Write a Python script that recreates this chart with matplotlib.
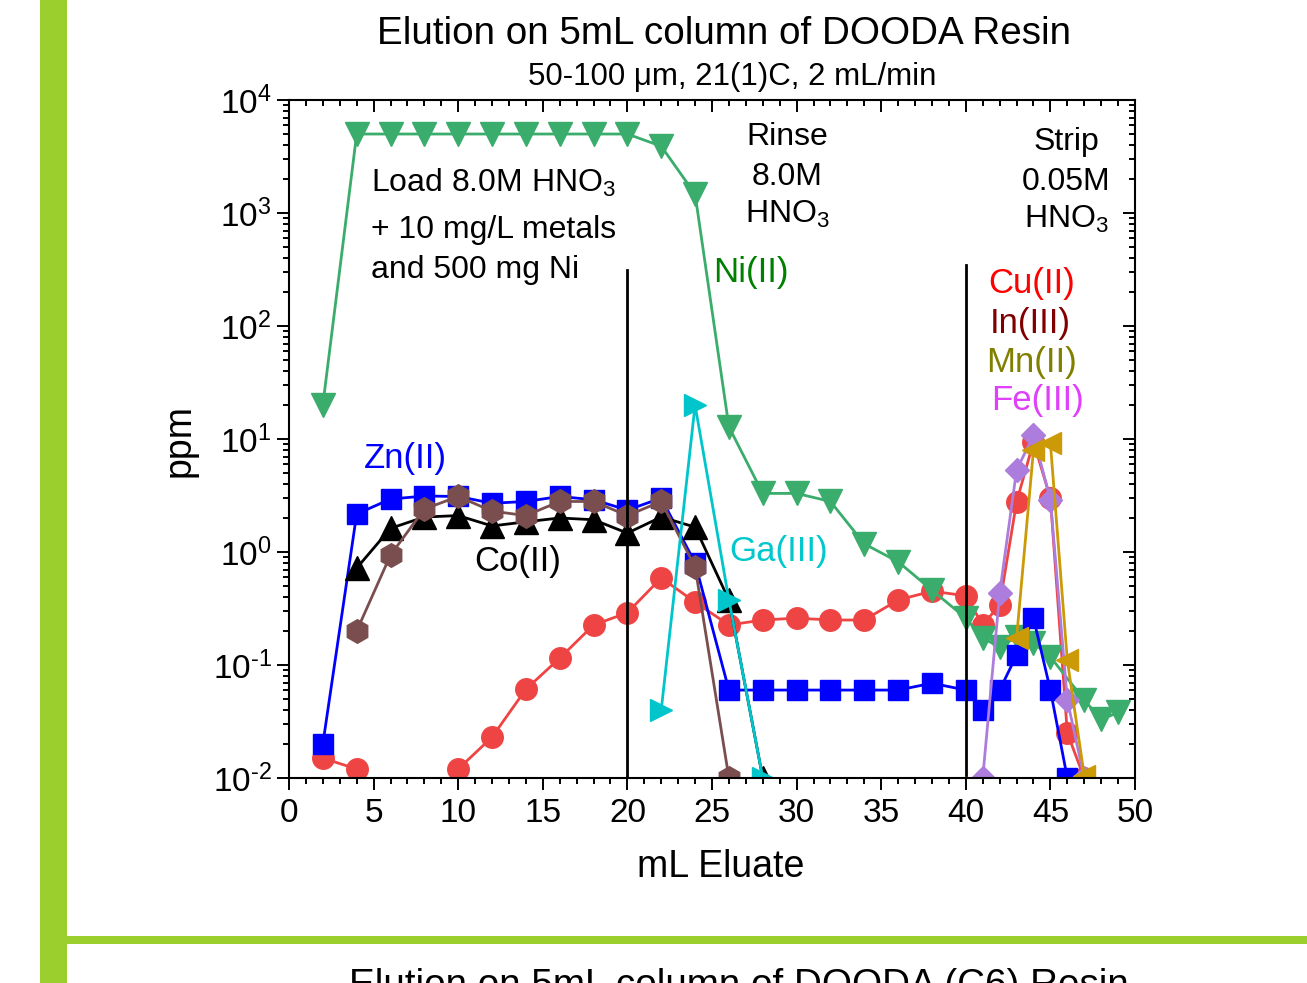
import numpy as np
import matplotlib
matplotlib.use("Agg")
import matplotlib.pyplot as plt
from matplotlib.patches import Rectangle
from matplotlib.ticker import FixedLocator, LogLocator, NullFormatter, MultipleLocator

plt.rcParams['font.family'] = ['Liberation Sans', 'DejaVu Sans']
plt.rcParams['mathtext.default'] = 'regular'
plt.rcParams['mathtext.fontset'] = 'custom'
plt.rcParams['mathtext.rm'] = 'Liberation Sans'
plt.rcParams['axes.unicode_minus'] = False

# ---- data (mL eluate vs ppm) ----
vol_ni = [2, 4, 6, 8, 10, 12, 14, 16, 18, 20, 22, 24, 26, 28, 30, 32, 34, 36, 38,
          40, 41, 42, 43, 44, 45, 47, 48, 49]
ni = [20, 5000, 5000, 5000, 5000, 5000, 5000, 5000, 5000, 5000, 3900, 1470, 12.8,
      3.3, 3.3, 2.8, 1.18, 0.82, 0.46, 0.26, 0.173, 0.144, 0.177, 0.157, 0.118,
      0.049, 0.033, 0.038]

vol_zn = [2, 4, 6, 8, 10, 12, 14, 16, 18, 20, 22, 24, 26, 28, 30, 32, 34, 36, 38,
          40, 41, 42, 43, 44, 45, 46]
zn = [0.02, 2.17, 2.94, 3.13, 3.1, 2.7, 2.8, 3.1, 2.9, 2.35, 3.0, 0.8, 0.06, 0.06,
      0.06, 0.06, 0.06, 0.06, 0.069, 0.06, 0.04, 0.06, 0.122, 0.26, 0.06, 0.01]

vol_co = [4, 6, 8, 10, 12, 14, 16, 18, 20, 22, 24, 26, 28]
co = [0.72, 1.62, 2.04, 2.1, 1.7, 1.85, 2.0, 1.93, 1.47, 2.04, 1.66, 0.376, 0.01]

vol_cu = [2, 4, 6, 8, 10, 12, 14, 16, 18, 20, 22, 24, 26, 28, 30, 32, 34, 36, 38,
          40, 41, 42, 43, 44, 45, 46, 47]
cu = [0.015, 0.012, np.nan, np.nan, 0.012, 0.023, 0.061, 0.115, 0.226, 0.29, 0.59,
      0.36, 0.226, 0.25, 0.26, 0.25, 0.25, 0.376, 0.45, 0.41, 0.226, 0.34, 2.77,
      9.4, 3.0, 0.025, 0.01]

vol_in = [4, 6, 8, 10, 12, 14, 16, 18, 20, 22, 24, 26]
in_ = [0.2, 0.94, 2.4, 3.1, 2.3, 2.1, 2.8, 2.8, 2.1, 2.8, 0.74, 0.01]

vol_ga = [22, 24, 26, 28]
ga = [0.04, 20, 0.376, 0.01]

vol_fe = [41, 42, 43, 44, 45, 46, 47]
fe = [0.01, 0.43, 5.3, 10.8, 2.9, 0.049, 0.01]

vol_mn = [43, 44, 45, 46, 47]
mn = [0.173, 8.0, 9.2, 0.11, 0.0105]

x_ticks = [0, 5, 10, 15, 20, 25, 30, 35, 40, 45, 50]
y_exponents = [-2, -1, 0, 1, 2, 3, 4]

# ---- figure ----
W, H = 1307, 983
fig = plt.figure(figsize=(W / 100, H / 100), dpi=100)

green = '#9bcf2e'
fig.patches.append(Rectangle((40 / W, 0), 27 / W, 1, transform=fig.transFigure,
                             facecolor=green, edgecolor='none', zorder=0))
fig.patches.append(Rectangle((67 / W, (H - 944) / H), 1 - 67 / W, 8 / H,
                             transform=fig.transFigure, facecolor=green,
                             edgecolor='none', zorder=0))

ax = fig.add_axes([289 / W, (H - 778) / H, (1135 - 289) / W, (778 - 100) / H])
ax.set_yscale('log')
ax.set_xlim(0, 50)
ax.set_ylim(1e-2, 1e4)

lw = 2.0
series = [
    (vol_cu, cu, 'o', '#ef4444', 15.5),
    (vol_ni, ni, 'v', '#3aac6c', 17),
    (vol_zn, zn, 's', '#0000ff', 14),
    (vol_co, co, '^', '#000000', 17),
    (vol_in, in_, 'h', '#7a4e4e', 17),
    (vol_ga, ga, '>', '#00c6cc', 16),
    (vol_fe, fe, 'D', '#ad7ddd', 12.5),
    (vol_mn, mn, '<', '#cc9a06', 16.5),
]
for xs, ys, mk, col, ms in series:
    ax.plot(xs, ys, marker=mk, color=col, lw=lw, ms=ms, mec=col, mew=1)

# section dividers
ax.axvline(20, ymin=0.0, ymax=0.749, color='black', lw=2)
ax.axvline(40, ymin=0.005, ymax=0.757, color='black', lw=2)


def decade_label(e):
    # plain hyphen for negative exponents
    sign = '\u2010' if e < 0 else ''
    return '10$^{%s%d}$' % (sign, abs(e))


# ticks
ax.xaxis.set_major_locator(FixedLocator(x_ticks))
ax.xaxis.set_minor_locator(MultipleLocator(1))
ax.set_xticklabels([str(v) for v in x_ticks])
ax.yaxis.set_major_locator(FixedLocator([10.0 ** e for e in y_exponents]))
ax.set_yticklabels([decade_label(e) for e in y_exponents])
ax.yaxis.set_minor_locator(LogLocator(base=10, subs=np.arange(2, 10), numticks=20))
ax.yaxis.set_minor_formatter(NullFormatter())

for side in ['left', 'right', 'top', 'bottom']:
    ax.spines[side].set_linewidth(1.5)
ax.tick_params(which='both', width=1.4, labelsize=24)
ax.tick_params(which='major', length=8.5)
ax.tick_params(which='minor', length=4.5)
ax.tick_params(axis='x', which='both', bottom=True, top=True, pad=6, direction='out')
ax.tick_params(axis='y', which='both', left=True, right=True, pad=4, direction='out')
# inward ticks on the top and right edges
for t in ax.xaxis.get_major_ticks() + ax.xaxis.get_minor_ticks():
    t.tick2line.set_marker(3)  # TICKDOWN
for t in ax.yaxis.get_major_ticks() + ax.yaxis.get_minor_ticks():
    t.tick2line.set_marker(0)  # TICKLEFT

ax.set_xlabel('mL Eluate', fontsize=27)
ax.xaxis.set_label_coords(0.510, -0.105)
ax.set_ylabel('ppm', fontsize=27)
ax.yaxis.set_label_coords(-0.108, 0.4985)

# annotations
fs_note = 23
ax.text(0.0968, 0.864, 'Load 8.0M HNO$_3$', transform=ax.transAxes, fontsize=fs_note,
        ha='left', va='baseline')
ax.text(0.0968, 0.796, '+ 10 mg/L metals', transform=ax.transAxes, fontsize=fs_note,
        ha='left', va='baseline')
ax.text(0.0968, 0.737, 'and 500 mg Ni', transform=ax.transAxes, fontsize=fs_note,
        ha='left', va='baseline')
for txt, yy in [('Rinse', 0.934), ('8.0M', 0.875), ('HNO$_3$', 0.819)]:
    ax.text(0.589, yy, txt, transform=ax.transAxes, fontsize=fs_note,
            ha='center', va='baseline')
for txt, yy in [('Strip', 0.926), ('0.05M', 0.867), ('HNO$_3$', 0.811)]:
    ax.text(0.919, yy, txt, transform=ax.transAxes, fontsize=fs_note,
            ha='center', va='baseline')

fs_lab = 25
labels = [
    ('Ni(II)', 0.5455, 0.731, '#008000'),
    ('Cu(II)', 0.878, 0.715, '#ff0000'),
    ('In(III)', 0.876, 0.656, '#800000'),
    ('Mn(II)', 0.878, 0.599, '#808000'),
    ('Fe(III)', 0.885, 0.543, '#e040fb'),
    ('Zn(II)', 0.137, 0.457, '#0000ff'),
    ('Co(II)', 0.270, 0.305, '#000000'),
    ('Ga(III)', 0.5785, 0.320, '#00c8cc'),
]
for txt, xx, yy, col in labels:
    ax.text(xx, yy, txt, transform=ax.transAxes, fontsize=fs_lab, color=col,
            ha='center', va='baseline')

fig.text(724.5 / W, (H - 44.5) / H, 'Elution on 5mL column of DOODA Resin',
         fontsize=27.8, ha='center', va='baseline')
fig.text(732 / W, (H - 85) / H, '50-100 \u03bcm, 21(1)C, 2 mL/min',
         fontsize=22.5, ha='center', va='baseline')
fig.text(739 / W, (H - 996) / H, 'Elution on 5mL column of DOODA (C6) Resin',
         fontsize=27.8, ha='center', va='baseline')

fig.savefig('out.png', dpi=100)
